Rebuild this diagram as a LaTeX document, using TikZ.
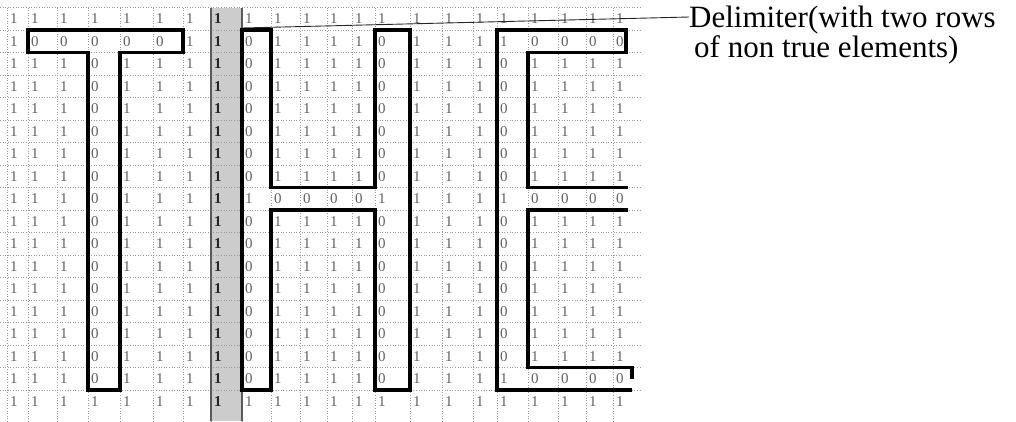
\documentclass[tikz,border=0pt]{standalone}
\usepackage{fontspec}
\setmainfont{Liberation Serif}
\usetikzlibrary{calc}
\begin{document}
\begin{tikzpicture}[x=1pt,y=-1pt,
  gridline/.style={black!40, line width=0.6pt, dash pattern=on 1pt off 1.6pt},
  letter/.style={black, line width=3.2pt, line join=miter},
  digit/.style={inner sep=0pt, anchor=west, text=black!62, font=\fontsize{15}{15}\selectfont},
  delimdigit/.style={digit, text=black!85, font=\fontsize{15}{15}\selectfont\bfseries},
  delimcol/.style={fill=black!20},
  delimline/.style={black!65, line width=1.8pt},
  labeltext/.style={inner sep=0pt, anchor=base west, font=\fontsize{31}{30}\selectfont},
  leader/.style={black!85, line width=0.9pt}]
\useasboundingbox (0,0) rectangle (1016,421);
\def\B{{7,28,57,88,120,153,183,211,242,271,300,327,352,375,410,442,473,497,528,558,586,613,640}}
% delimiter column
\fill[delimcol] (211,7.5) rectangle (242,421);
% grid
\foreach \k in {0,...,17} \draw[gridline] (0,{7.5+22.5*\k}) -- (640,{7.5+22.5*\k});
\foreach \k in {0,...,21} {\pgfmathsetmacro\xx{\B[\k]} \draw[gridline] (\xx,7.5) -- (\xx,421);}
\draw[delimline] (211,7.5) -- (211,421);
\draw[delimline] (242,7.5) -- (242,421);
% cell values
\foreach \c in {0,...,21}{
 \foreach \r in {0,...,17}{
  \pgfmathsetmacro\xx{\B[\c]+3}
  \pgfmathsetmacro\yy{18.75+22.5*\r}
  \pgfmathtruncatemacro\z{((\r==1)&&(\c>=1)&&(\c<=5)) || ((\c==3)&&(\r>=2)&&(\r<=16)) || (((\c==8)||(\c==13))&&(\r>=1)&&(\r<=16)&&(\r!=8)) || ((\c>=9)&&(\c<=12)&&(\r==8)) || ((\c==17)&&(\r>=2)&&(\r<=15)&&(\r!=8)) || ((\c>=18)&&((\r==1)||(\r==8)||(\r==16)))}
  \ifnum\c=7
   \node[delimdigit] (c-\c-\r) at (\xx,\yy) {1};
  \else
   \node[digit] (c-\c-\r) at (\xx,\yy) {\ifnum\z=1 0\else 1\fi};
  \fi
 }}
% letters
\draw[letter] (28,30) -- (183,30) -- (183,52.5) -- (120,52.5) -- (120,390) -- (88,390) -- (88,52.5) -- (28,52.5) -- cycle;
\draw[letter] (242,30) -- (271,30) -- (271,187.5) -- (375,187.5) -- (375,30) -- (410,30) -- (410,390) -- (375,390) -- (375,210) -- (271,210) -- (271,390) -- (242,390) -- cycle;
\draw[letter] (628,187.5) -- (528,187.5) -- (528,52.5) -- (626,52.5) -- (626,30) -- (497,30) -- (497,390) -- (632,390);
\draw[letter] (628,210) -- (528,210) -- (528,367.5) -- (632,367.5) -- (632,379);
% label
\node[labeltext] (lbl1) at (689,27) {Delimiter(with two rows};
\node[labeltext] (lbl2) at (694,57) {of non true elements)};
\coordinate (dtop) at (242,28);
\draw[leader] (dtop) -- ([yshift=10pt]lbl1.base west);
\end{tikzpicture}
\end{document}
